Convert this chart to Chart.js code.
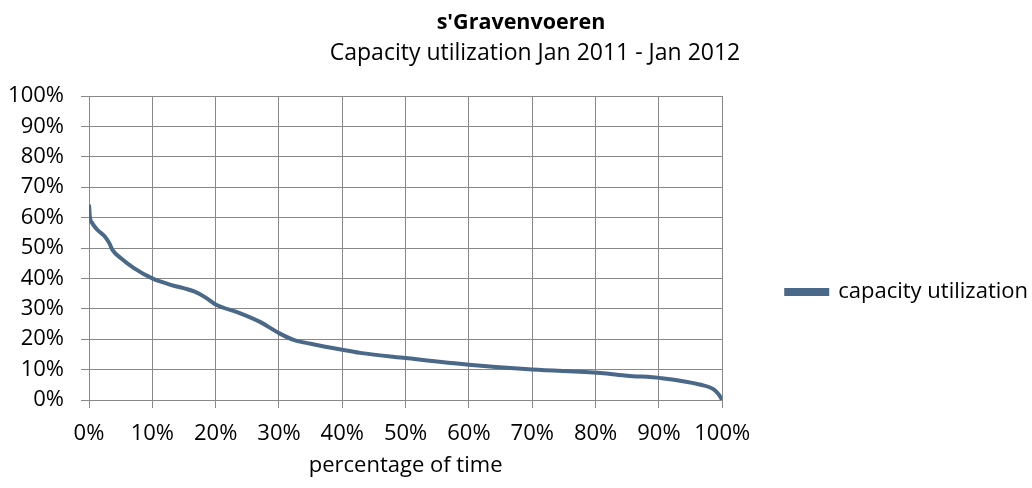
<!DOCTYPE html>
<html>
<head>
<meta charset="utf-8">
<script src="https://cdn.jsdelivr.net/npm/chart.js@4.4.1/dist/chart.umd.min.js"></script>
<style>
	html, body { margin: 0; padding: 0; background: #fff; }
	#wrap { width: 1032px; height: 488px; }
</style>
</head>
<body>
<div id="wrap"><canvas id="chartUtil" width="1032" height="488"></canvas></div>
<script>
'use strict'

// values (duration curve, sorted)
const timePct = [0, 0.15, 0.5, 1.3, 2.5, 3.2, 3.7, 5, 7.1, 10, 12.9, 16.6, 18.5, 20, 23.8, 27, 30, 32.3, 35, 40, 42.8, 50, 60, 70, 80.8, 85, 90.3, 96.6, 98.7, 99.5, 100];
const utilization = [64.3, 60.1, 58.2, 56, 53.8, 51.6, 49.4, 46.7, 43.4, 40, 37.9, 35.7, 33.6, 31.4, 28.6, 25.7, 22, 19.8, 18.5, 16.5, 15.5, 13.8, 11.6, 10, 8.9, 8.0, 7.2, 5.0, 3.4, 1.7, 0];
const seriesName = 'capacity utilization';
const chartTitle = "s'Gravenvoeren";
const chartSubtitle = 'Capacity utilization Jan 2011 - Jan 2012';
const xTitle = 'percentage of time';

const fontFamily = "'Open Sans', 'Noto Sans', sans-serif";
const colors = {
	line: '#4A6888',
	grid: '#888888',
	text: '#000000',
};

const points = timePct.map((t, i) => ({ x: t, y: utilization[i] }));

// title block, placed like the original (not centred over the whole canvas)
const titleBlock = {
	id: 'titleBlock',
	afterDraw(chart) {
		const { ctx } = chart;
		ctx.save();
		ctx.fillStyle = colors.text;
		ctx.textAlign = 'center';
		ctx.textBaseline = 'alphabetic';
		ctx.font = 'bold 21.5px ' + fontFamily;
		ctx.fillText(chartTitle, 521, 29);
		ctx.font = '23px ' + fontFamily;
		ctx.fillText(chartSubtitle, 535, 60);
		ctx.restore();
	},
};

let chartUtil = new Chart(document.getElementById('chartUtil'), {
	type: 'line',
	data: {
		datasets: [
			{
				label: seriesName,
				data: points,
				borderColor: colors.line,
				backgroundColor: colors.line,
				borderWidth: 4,
				pointRadius: 0,
				cubicInterpolationMode: 'monotone',
				fill: false,
			},
		],
	},
	options: {
		responsive: false,
		animation: false,
		layout: {
			padding: { top: 96, left: 0, right: -6, bottom: 0 },
		},
		plugins: {
			title: { display: false },
			tooltip: { enabled: false },
			legend: {
				position: 'right',
				maxWidth: 500,
				labels: {
					color: colors.text,
					font: { family: fontFamily, size: 22 },
					boxWidth: 41,
					boxHeight: 4,
					padding: 64,
				},
			},
		},
		scales: {
			x: {
				type: 'linear',
				min: 0,
				max: 100,
				afterFit(scale) { scale.height = 88; },
				grid: { color: colors.grid, tickLength: 8, tickColor: colors.grid },
				border: { color: colors.grid },
				ticks: {
					stepSize: 10,
					padding: 13,
					color: colors.text,
					maxRotation: 0,
					font: { family: fontFamily, size: 22 },
					callback: (v) => v + '%',
				},
				title: {
					display: true,
					text: xTitle,
					color: colors.text,
					font: { family: fontFamily, size: 22 },
					padding: { top: 6, bottom: 9 },
				},
			},
			y: {
				min: 0,
				max: 100,
				afterFit(scale) { scale.width = 89; },
				grid: { color: colors.grid, tickLength: 8, tickColor: colors.grid },
				border: { color: colors.grid },
				ticks: {
					stepSize: 10,
					padding: 17,
					color: colors.text,
					font: { family: fontFamily, size: 22 },
					callback: (v) => v + '%',
				},
			},
		},
	},
	plugins: [titleBlock],
});
</script>
</body>
</html>
